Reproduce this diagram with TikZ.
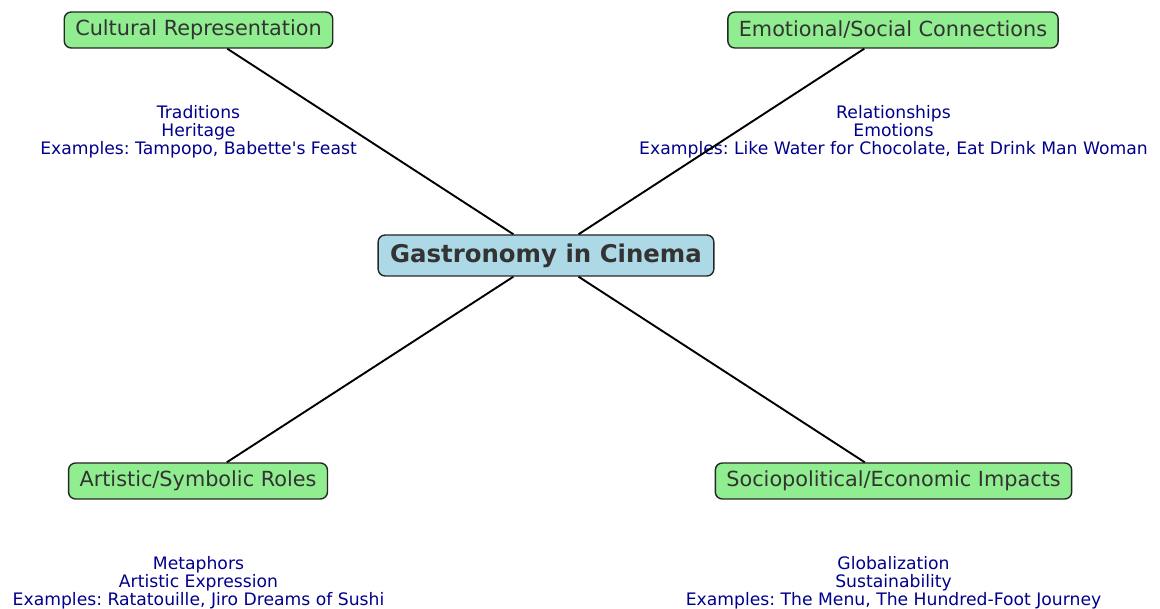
\documentclass[tikz,border=0pt]{standalone}
\usepackage{fontspec}
\setmainfont{DejaVu Sans}
\frenchspacing
\definecolor{boxgreen}{HTML}{90EE90}
\definecolor{boxblue}{HTML}{ADD8E6}
\definecolor{txtgray}{HTML}{333333}
\definecolor{lblblue}{HTML}{00008B}
\begin{document}
\begin{tikzpicture}[x=1pt,y=-1pt,
  topic/.style={draw=black!85, line width=1.4pt, rounded corners=7pt, fill=boxgreen,
    text=txtgray, font=\fontsize{20.8}{24}\selectfont, inner xsep=11pt, inner ysep=0pt,
    minimum height=36pt},
  hub/.style={draw=black!85, line width=1.4pt, rounded corners=7pt, fill=boxblue,
    text=txtgray, font=\fontsize{24.4}{28}\selectfont\bfseries, inner xsep=12pt, inner ysep=0pt,
    minimum height=41pt},
  detail/.style={text=lblblue, align=center, font=\fontsize{17.2}{18}\selectfont, inner sep=0pt},
  link/.style={line width=1.9pt, black}]
\useasboundingbox (0,0) rectangle (1160,609);
\node[hub] (hub) at (546,255.5) {Gastronomy in Cinema};
\node[topic] (cul) at (198.5,30) {Cultural Representation};
\node[topic] (emo) at (893,30) {Emotional/Social Connections};
\node[topic] (art) at (198,481) {Artistic/Symbolic Roles};
\node[topic] (soc) at (893.5,481) {Sociopolitical/Economic Impacts};
\node[detail] (culd) at (198.5,132) {Traditions\\Heritage\\Examples: Tampopo, Babette\textquotesingle s Feast};
\node[detail] (emod) at (893.5,132) {Relationships\\Emotions\\Examples: Like Water for Chocolate, Eat Drink Man Woman};
\node[detail] (artd) at (198.5,583) {Metaphors\\Artistic Expression\\Examples: Ratatouille, Jiro Dreams of Sushi};
\node[detail] (socd) at (893.5,583) {Globalization\\Sustainability\\Examples: The Menu, The Hundred-Foot Journey};
\draw[link] (hub) -- (cul);
\draw[link] (hub) -- (emo);
\draw[link] (hub) -- (art);
\draw[link] (hub) -- (soc);
\end{tikzpicture}
\end{document}
